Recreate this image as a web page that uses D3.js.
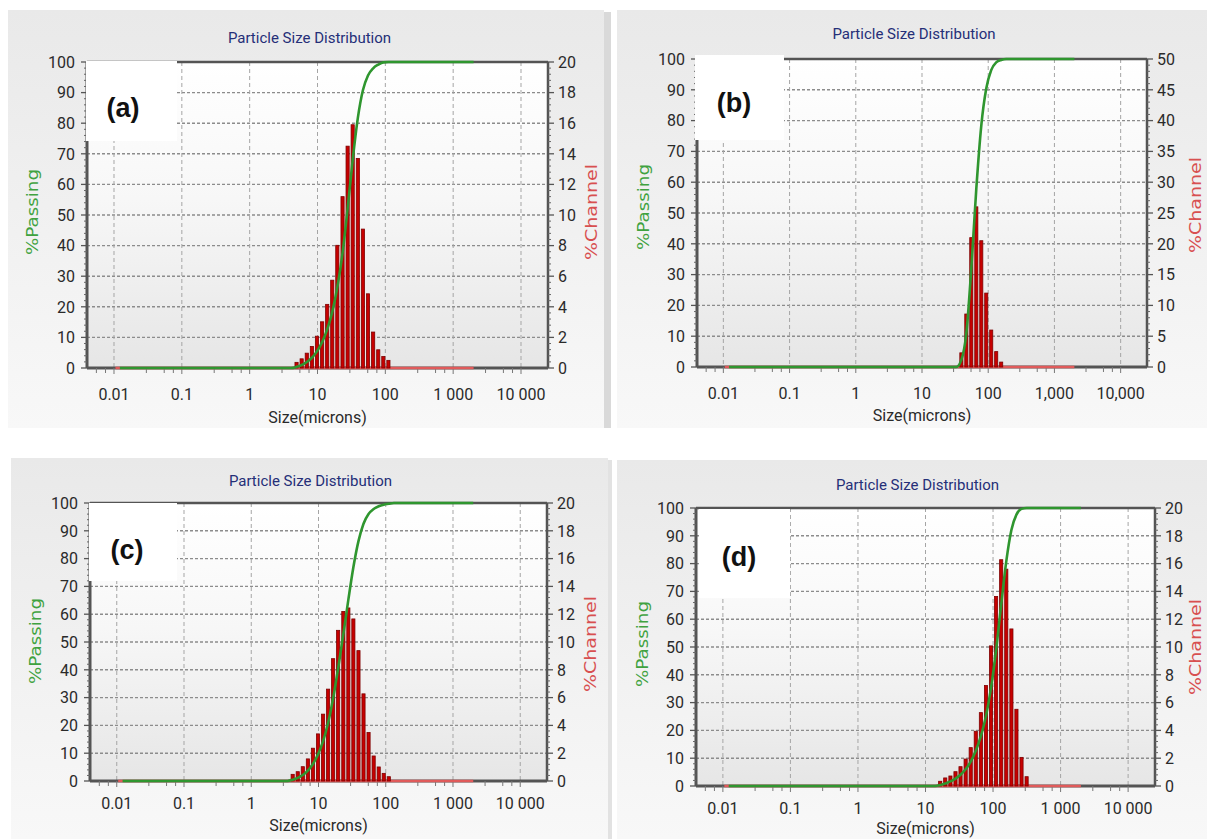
<!DOCTYPE html>
<html><head><meta charset="utf-8">
<script src="https://cdn.jsdelivr.net/npm/d3@7"></script>
<style>html,body{margin:0;padding:0;background:#fff}svg{display:block}</style>
</head><body><svg id="chart" width="1207" height="839"></svg>
<script>
// ---------------- data ----------------
const chartTitle = "Particle Size Distribution";
const xAxisTitle = "Size(microns)";
const leftAxisTitle = "%Passing";
const rightAxisTitle = "%Channel";
const panelLetters = ["(a)", "(b)", "(c)", "(d)"];
const xTickValues = [0.01, 0.1, 1, 10, 100, 1000, 10000];
const xTickLabelsSpaced = ["0.01", "0.1", "1", "10", "100", "1 000", "10 000"];
const xTickLabelsComma = ["0.01", "0.1", "1", "10", "100", "1,000", "10,000"];
const xMinorMultipliers = [3, 5.5, 7.5];
const passingTicks = [0, 10, 20, 30, 40, 50, 60, 70, 80, 90, 100];
const channelTicks20 = [0, 2, 4, 6, 8, 10, 12, 14, 16, 18, 20];
const channelTicks50 = [0, 5, 10, 15, 20, 25, 30, 35, 40, 45, 50];
const sizeDomain = [0.004, 25000];
const channelBaseline = [0.0105, 2000];

// (a)
const sizesA = [4.91, 5.84, 6.95, 8.26, 9.82, 11.7, 13.9, 16.5, 19.6, 23.4, 27.8, 33.0, 39.3, 46.7, 55.5, 66.1, 78.6, 93.4, 111];
const channelA = [0.37, 0.6, 0.97, 1.41, 2.08, 3.02, 4.16, 5.74, 8.02, 11.2, 14.5, 15.9, 13.7, 9.08, 4.85, 2.35, 1.19, 0.75, 0.5];
const passSizesA = [0.0122, 4.13, 4.91, 5.84, 6.95, 8.26, 9.82, 11.7, 13.9, 16.5, 19.6, 23.4, 27.8, 33.0, 39.3, 46.7, 55.5, 66.1, 78.6, 93.4, 111, 132, 2000];
const passingA = [0, 0, 0.37, 0.97, 1.94, 3.35, 5.43, 8.45, 12.61, 18.35, 26.37, 37.57, 52.07, 67.97, 81.67, 90.75, 95.6, 97.95, 99.14, 99.89, 100, 100, 100];

// (b)
const sizesB = [39.3, 46.7, 55.5, 66.1, 78.6, 93.4, 111, 132, 157];
const channelB = [2.3, 8.6, 21.0, 26.0, 20.5, 12.0, 6.0, 2.5, 0.8];
const passSizesB = [0.0122, 33.0, 39.3, 46.7, 55.5, 66.1, 78.6, 93.4, 111, 132, 157, 187, 2000];
const passingB = [0, 0, 2.3, 10.9, 31.9, 57.9, 78.4, 90.4, 96.4, 98.9, 99.7, 100, 100];

// (c)
const sizesC = [4.13, 4.91, 5.84, 6.95, 8.26, 9.82, 11.7, 13.9, 16.5, 19.6, 23.4, 27.8, 33.0, 39.3, 46.7, 55.5, 66.1, 78.6, 93.4, 111];
const channelC = [0.48, 0.67, 1.03, 1.59, 2.36, 3.39, 4.81, 6.61, 8.8, 10.84, 12.2, 12.45, 11.66, 9.38, 6.27, 3.49, 1.8, 1.01, 0.55, 0.31];
const passSizesC = [0.0122, 3.47, 4.13, 4.91, 5.84, 6.95, 8.26, 9.82, 11.7, 13.9, 16.5, 19.6, 23.4, 27.8, 33.0, 39.3, 46.7, 55.5, 66.1, 78.6, 93.4, 111, 132, 2000];
const passingC = [0, 0, 0.48, 1.15, 2.18, 3.77, 6.13, 9.52, 14.33, 20.94, 29.74, 40.58, 52.78, 65.23, 76.89, 86.27, 92.54, 96.03, 97.83, 98.84, 99.39, 99.7, 100, 100];

// (d)
const sizesD = [16.5, 19.6, 23.4, 27.8, 33.0, 39.3, 46.7, 55.5, 66.1, 78.6, 93.4, 111, 132, 157, 187, 222, 264, 314];
const channelD = [0.34, 0.58, 0.72, 1.03, 1.39, 1.94, 2.76, 3.94, 5.28, 7.23, 10.08, 13.64, 16.28, 15.6, 11.3, 5.52, 2.06, 0.67];
const passSizesD = [0.0122, 13.9, 16.5, 19.6, 23.4, 27.8, 33.0, 39.3, 46.7, 55.5, 66.1, 78.6, 93.4, 111, 132, 157, 187, 222, 264, 314, 374, 2000];
const passingD = [0, 0, 0.34, 0.92, 1.64, 2.67, 4.06, 6.0, 8.76, 12.7, 17.98, 25.21, 35.29, 48.93, 65.21, 80.81, 92.11, 97.63, 99.69, 100, 100, 100];

// ---------------- layout ----------------
const panels = [
  { letter: panelLetters[0], sizes: sizesA, channel: channelA, passSizes: passSizesA, passing: passingA,
    chTicks: channelTicks20, xLabels: xTickLabelsSpaced,
    bg: [8, 10, 604, 428], plot: [87, 62, 548, 368], titleY: 43, xLabY: 400, xTitleY: 423,
    passLab: [33, 212], chanLab: [592, 212], box: [86, 61, 177, 141], letterPos: [123, 117] },
  { letter: panelLetters[1], sizes: sizesB, channel: channelB, passSizes: passSizesB, passing: passingB,
    chTicks: channelTicks50, xLabels: xTickLabelsComma,
    bg: [617, 10, 1207, 428], plot: [697, 59, 1147, 367], titleY: 39, xLabY: 399, xTitleY: 421,
    passLab: [644, 207], chanLab: [1196, 205], box: [695, 55, 784, 140], letterPos: [734, 112] },
  { letter: panelLetters[2], sizes: sizesC, channel: channelC, passSizes: passSizesC, passing: passingC,
    chTicks: channelTicks20, xLabels: xTickLabelsSpaced,
    bg: [11, 458, 608, 839], plot: [90, 503, 547, 781], titleY: 486, xLabY: 809, xTitleY: 831,
    passLab: [36, 641], chanLab: [591, 644], box: [89, 503, 177, 581], letterPos: [127, 559] },
  { letter: panelLetters[3], sizes: sizesD, channel: channelD, passSizes: passSizesD, passing: passingD,
    chTicks: channelTicks20, xLabels: xTickLabelsSpaced,
    bg: [617, 460, 1207, 839], plot: [696, 508, 1155, 786], titleY: 490, xLabY: 814, xTitleY: 834,
    passLab: [643, 644], chanLab: [1196, 647], box: [699, 509, 790, 598], letterPos: [739, 566] }
];

const svg = d3.select("#chart");
const defs = svg.append("defs");
const gOuter = defs.append("linearGradient").attr("id", "outerGrad").attr("x1", 0).attr("y1", 0).attr("x2", 0).attr("y2", 1);
gOuter.append("stop").attr("offset", "0%").attr("stop-color", "#e9e9e9");
gOuter.append("stop").attr("offset", "100%").attr("stop-color", "#f8f8f8");
const gInner = defs.append("linearGradient").attr("id", "innerGrad").attr("x1", 0).attr("y1", 0).attr("x2", 0).attr("y2", 1);
gInner.append("stop").attr("offset", "0%").attr("stop-color", "#ffffff");
gInner.append("stop").attr("offset", "45%").attr("stop-color", "#f7f7f7");
gInner.append("stop").attr("offset", "100%").attr("stop-color", "#e6e6e6");

// separators between panels
svg.append("rect").attr("x", 604).attr("y", 12).attr("width", 7).attr("height", 416).attr("fill", "#d9d9d9");
svg.append("rect").attr("x", 608).attr("y", 460).attr("width", 4).attr("height", 379).attr("fill", "#e2e2e2");

const tickFont = "Roboto, 'DejaVu Sans', sans-serif";

panels.forEach(p => {
  const [L, T, R, B] = p.plot;
  const g = svg.append("g");
  g.append("rect").attr("x", p.bg[0]).attr("y", p.bg[1]).attr("width", p.bg[2] - p.bg[0]).attr("height", p.bg[3] - p.bg[1])
    .attr("fill", "url(#outerGrad)");

  const x = d3.scaleLog().domain(sizeDomain).range([L, R]);
  const yP = d3.scaleLinear().domain([0, 100]).range([B, T]);
  const chMax = p.chTicks[p.chTicks.length - 1];
  const yC = d3.scaleLinear().domain([0, chMax]).range([B, T]);

  g.append("rect").attr("x", L).attr("y", T).attr("width", R - L).attr("height", B - T).attr("fill", "url(#innerGrad)");

  // grid
  g.selectAll(".hg").data(passingTicks.filter(v => v > 0 && v < 100)).join("line")
    .attr("x1", L).attr("x2", R).attr("y1", d => yP(d)).attr("y2", d => yP(d))
    .attr("stroke", "#8c8c8c").attr("stroke-width", 1.4).attr("stroke-dasharray", "3,2");
  g.selectAll(".vg").data(xTickValues).join("line")
    .attr("x1", d => x(d)).attr("x2", d => x(d)).attr("y1", T).attr("y2", B)
    .attr("stroke", "#a5a5a5").attr("stroke-width", 1).attr("stroke-dasharray", "4,3");

  // frame
  const frame = "#545454";
  g.append("line").attr("x1", L).attr("x2", R).attr("y1", T).attr("y2", T).attr("stroke", frame).attr("stroke-width", 2.5);
  g.append("line").attr("x1", R).attr("x2", R).attr("y1", T).attr("y2", B).attr("stroke", frame).attr("stroke-width", 2.5);
  g.append("line").attr("x1", L).attr("x2", L).attr("y1", T).attr("y2", B).attr("stroke", frame).attr("stroke-width", 3);
  g.append("line").attr("x1", L).attr("x2", R).attr("y1", B).attr("y2", B).attr("stroke", frame).attr("stroke-width", 3);

  // left ticks
  const leftMinor = d3.range(0, 100, 2).filter(v => v % 10 !== 0);
  g.selectAll(".lmn").data(leftMinor).join("line")
    .attr("x1", L - 3).attr("x2", L).attr("y1", d => yP(d)).attr("y2", d => yP(d)).attr("stroke", "#666").attr("stroke-width", 1);
  g.selectAll(".lmj").data(passingTicks).join("line")
    .attr("x1", L - 6).attr("x2", L).attr("y1", d => yP(d)).attr("y2", d => yP(d)).attr("stroke", "#555").attr("stroke-width", 1.3);
  // right ticks
  const step = p.chTicks[1] - p.chTicks[0];
  const rightMinor = d3.range(0, chMax, step / 5).filter(v => Math.abs(v / step - Math.round(v / step)) > 1e-6);
  g.selectAll(".rmn").data(rightMinor).join("line")
    .attr("x1", R).attr("x2", R + 3).attr("y1", d => yC(d)).attr("y2", d => yC(d)).attr("stroke", "#666").attr("stroke-width", 1);
  g.selectAll(".rmj").data(p.chTicks).join("line")
    .attr("x1", R).attr("x2", R + 6).attr("y1", d => yC(d)).attr("y2", d => yC(d)).attr("stroke", "#555").attr("stroke-width", 1.3);
  // bottom minor ticks
  const minorX = [];
  xTickValues.concat([0.001]).forEach(d => xMinorMultipliers.forEach(m => { const v = d * m; if (v > sizeDomain[0] && v < sizeDomain[1]) minorX.push(v); }));
  g.selectAll(".bmn").data(minorX).join("line")
    .attr("x1", d => x(d)).attr("x2", d => x(d)).attr("y1", B).attr("y2", B + 5).attr("stroke", "#777").attr("stroke-width", 1);
  g.selectAll(".bmj").data(xTickValues).join("line")
    .attr("x1", d => x(d)).attr("x2", d => x(d)).attr("y1", B).attr("y2", B + 6).attr("stroke", "#777").attr("stroke-width", 1);

  // red channel baseline
  g.append("line").attr("x1", x(channelBaseline[0])).attr("x2", x(channelBaseline[1])).attr("y1", yC(0)).attr("y2", yC(0))
    .attr("stroke", "#e05a5a").attr("stroke-width", 2.5);

  // bars
  const ratio = Math.pow(2, 1 / 8);
  g.selectAll(".bar").data(p.sizes.map((s, i) => ({ s, v: p.channel[i] }))).join("rect")
    .attr("x", d => { const w = (x(d.s * ratio) - x(d.s / ratio)) * 0.62; return x(d.s) - w / 2; })
    .attr("width", d => (x(d.s * ratio) - x(d.s / ratio)) * 0.62)
    .attr("y", d => yC(d.v)).attr("height", d => yC(0) - yC(d.v))
    .attr("fill", "#c70000").attr("stroke", "#7d0000").attr("stroke-width", 0.8);

  // passing curve
  const line = d3.line().x(d => x(d.s)).y(d => yP(d.v)).curve(d3.curveMonotoneX);
  g.append("path").datum(p.passSizes.map((s, i) => ({ s, v: p.passing[i] })))
    .attr("d", line).attr("fill", "none").attr("stroke", "#2f962f").attr("stroke-width", 2.6);

  // white letter box
  g.append("rect").attr("x", p.box[0]).attr("y", p.box[1]).attr("width", p.box[2] - p.box[0]).attr("height", p.box[3] - p.box[1]).attr("fill", "#fff");
  g.append("text").attr("x", p.letterPos[0]).attr("y", p.letterPos[1]).attr("text-anchor", "middle")
    .attr("font-family", "'Liberation Sans', Arial, sans-serif").attr("font-weight", "bold").attr("font-size", 27)
    .attr("fill", "#111").text(p.letter);

  // tick labels
  g.selectAll(".ll").data(passingTicks).join("text")
    .attr("x", L - 12).attr("y", d => yP(d)).attr("dy", "0.36em").attr("text-anchor", "end")
    .attr("font-family", tickFont).attr("font-size", 16).attr("fill", "#2a2a2a").text(d => d);
  g.selectAll(".rl").data(p.chTicks).join("text")
    .attr("x", R + 10).attr("y", d => yC(d)).attr("dy", "0.36em").attr("text-anchor", "start")
    .attr("font-family", tickFont).attr("font-size", 16).attr("fill", "#2a2a2a").text(d => d);
  g.selectAll(".xl").data(xTickValues).join("text")
    .attr("x", d => x(d)).attr("y", p.xLabY).attr("text-anchor", "middle")
    .attr("font-family", tickFont).attr("font-size", 16).attr("fill", "#2a2a2a").text((d, i) => p.xLabels[i]);

  // titles
  g.append("text").attr("x", (L + R) / 2 - 8).attr("y", p.titleY).attr("text-anchor", "middle")
    .attr("font-family", tickFont).attr("font-size", 15).attr("fill", "#252f78").text(chartTitle);
  g.append("text").attr("x", (L + R) / 2).attr("y", p.xTitleY).attr("text-anchor", "middle")
    .attr("font-family", tickFont).attr("font-size", 16).attr("fill", "#2a2a2a").text(xAxisTitle);
  g.append("text").attr("transform", `translate(${p.passLab[0]},${p.passLab[1]}) rotate(-90)`)
    .attr("text-anchor", "middle").attr("dy", "0.35em")
    .attr("font-family", "'DejaVu Sans', sans-serif").attr("font-size", 15).attr("fill", "#3fa23f")
    .attr("textLength", 86).attr("lengthAdjust", "spacingAndGlyphs").text(leftAxisTitle);
  g.append("text").attr("transform", `translate(${p.chanLab[0]},${p.chanLab[1]}) rotate(-90)`)
    .attr("text-anchor", "middle").attr("dy", "0.35em")
    .attr("font-family", "'DejaVu Sans', sans-serif").attr("font-size", 15).attr("fill", "#d85050")
    .attr("textLength", 96).attr("lengthAdjust", "spacingAndGlyphs").text(rightAxisTitle);
});
</script></body></html>
